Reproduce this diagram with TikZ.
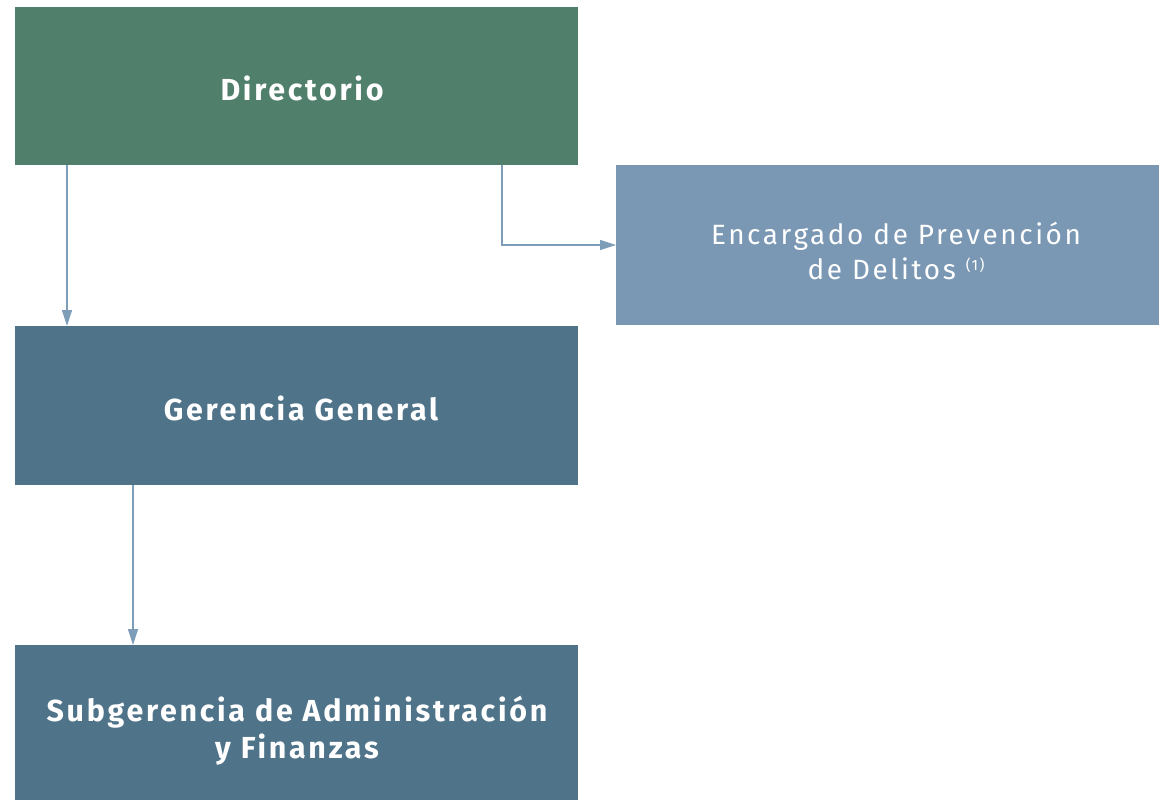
\documentclass[tikz,border=0pt]{standalone}
\usepackage{fontspec}
\setmainfont{Fira Sans}
\newfontfamily\boldlbl{Fira Sans}[LetterSpace=9]
\newfontfamily\lightlbl{Fira Sans}[LetterSpace=9.3]
\usetikzlibrary{arrows.meta}
\definecolor{dirgreen}{HTML}{507F6C}
\definecolor{gerblue}{HTML}{4F7389}
\definecolor{encblue}{HTML}{7A98B4}
\definecolor{arrowc}{HTML}{7E9DB8}
\tikzset{
  lbl/.style={text=white, font=\boldlbl\fontsize{30.5}{37}\selectfont\bfseries, align=center, inner sep=0pt},
  lbllight/.style={text=white, font=\lightlbl\fontsize{28}{36}\selectfont, align=center, inner sep=0pt},
  conn/.style={draw=arrowc, line width=1.2bp, -{Triangle[width=10bp,length=16bp]}}
}
\begin{document}
\begin{tikzpicture}[x=1bp,y=-1bp]
\useasboundingbox (0,0) rectangle (1159,800);
\fill[dirgreen] (15,7) rectangle (578,165);
\fill[encblue] (616,165) rectangle (1159,325);
\fill[gerblue] (15,326) rectangle (578,485);
\fill[gerblue] (15,645) rectangle (578,800);
\coordinate (dirbox-l) at (67,165);
\coordinate (dirbox-r) at (502,165);
\coordinate (turn) at (502,245);
\coordinate (encbox-l) at (616,245);
\coordinate (gerbox-t) at (67,326);
\coordinate (gerbox-b) at (133,485);
\coordinate (subbox-t) at (133,645);
\node[lbl] (dir) at (302,88) {Directorio};
\node[lbllight] (enc) at (896,251) {Encargado de Prevención\\de Delitos {\fontsize{15}{15}\selectfont\raisebox{9bp}{(1)}}};
\node[lbl] (ger) at (301,408) {Gerencia General};
\node[lbl] (sub) at (297,731) {Subgerencia de Administración\\y Finanzas};
\draw[conn] (dirbox-l) -- (gerbox-t);
\draw[conn] (dirbox-r) -- (turn) -- (encbox-l);
\draw[conn] (gerbox-b) -- (subbox-t);
\end{tikzpicture}
\end{document}
